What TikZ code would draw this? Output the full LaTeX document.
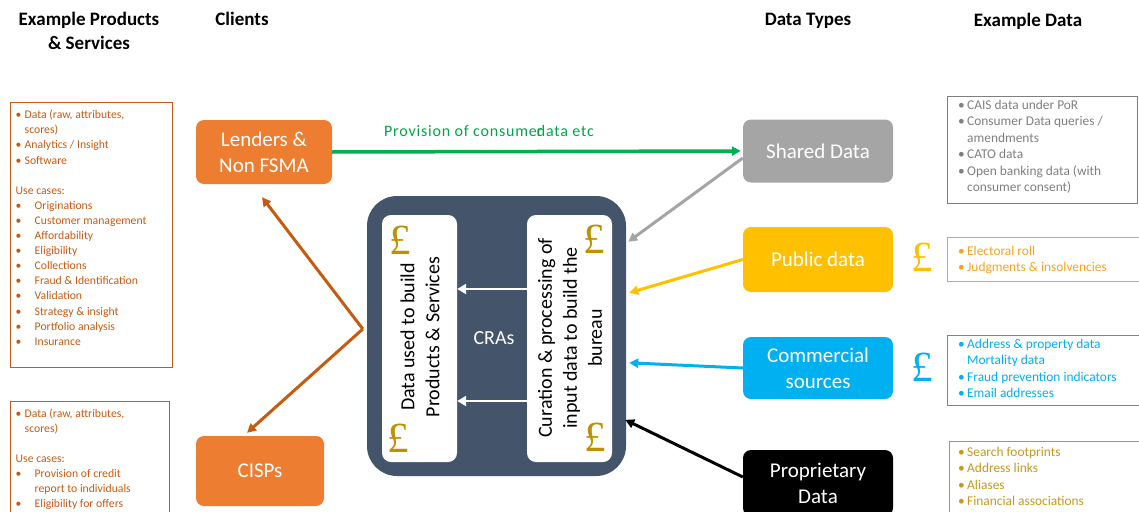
\documentclass[tikz,border=0pt]{standalone}
\usepackage{fontspec}
\setmainfont{Carlito}
\newfontfamily\poundfont{Liberation Serif}
\newfontfamily\trackfont[LetterSpace=5]{Carlito}
\usetikzlibrary{arrows.meta,calc}

\definecolor{clientOrange}{HTML}{ED7D31}
\definecolor{rustOrange}{HTML}{C55A11}
\definecolor{craSlate}{HTML}{44546A}
\definecolor{poundGold}{HTML}{BF9000}
\definecolor{sharedGrey}{HTML}{A5A5A5}
\definecolor{listGrey}{HTML}{7F7F7F}
\definecolor{publicYellow}{HTML}{FFC000}
\definecolor{publicOrange}{RGB}{247,163,28}
\definecolor{commBlue}{HTML}{00B0F0}
\definecolor{propGold}{RGB}{196,152,28}
\definecolor{flowGreen}{HTML}{00B050}
\definecolor{labelGreen}{RGB}{0,166,70}

\newcommand\fsz[2]{\fontsize{#1}{#2}\selectfont}
\newcommand\bA{\makebox[9pt][l]{•}}
\newcommand\bB{\makebox[19pt][l]{•}}
\newcommand\bR{\makebox[9pt][l]{•}}

\begin{document}
\begin{tikzpicture}[x=1pt,y=-1pt,
  head/.style={font=\bfseries\fsz{19}{24}, align=center, inner sep=0},
  clientbox/.style={fill=clientOrange, text=white, rounded corners=8pt,
    font=\fsz{21}{26}, align=center, inner sep=0},
  dtype/.style={rounded corners=8pt, text=white, font=\fsz{21}{26},
    align=center, inner sep=0, minimum width=150pt},
  inbox/.style={fill=white, rounded corners=9pt, inner sep=0},
  rot/.style={rotate=90, align=center, font=\fsz{20}{25}, inner sep=0},
  pound/.style={font=\poundfont\fsz{43}{43}, text=poundGold, inner sep=0},
  flow/.style={line width=3pt, -{Triangle[length=9pt,width=9pt]}},
  innerflow/.style={line width=2.5pt, white, -{Triangle[length=9pt,width=10pt]}},
  listframe/.style={line width=1.3pt, inner sep=0, anchor=north west},
  listL/.style={anchor=north west, inner sep=0, align=left,
    font=\fsz{11.7}{15.1}, text=rustOrange},
  listR/.style={anchor=north west, inner sep=0, align=left,
    font=\fsz{13.4}{16.5}}]

\useasboundingbox (0,0) rectangle (1139,511);
\clip (0,0) rectangle (1139,511);

% column headings
\node[head] (hProd) at (89,31) {Example Products\\\& Services};
\node[head] (hCli) at (242,19) {Clients};
\node[head] (hTypes) at (808,21) {Data Types};
\node[head] (hEx) at (1028,21) {Example Data};

% products and services
\node[listframe, draw=rustOrange, minimum width=162pt, minimum height=265pt] (prodBox) at (9.5,101.5) {};
\node[listL] (prodText) at (15.5,110) {%
\bA Data (raw, attributes,\\
\hspace*{9pt}scores)\\
\bA Analytics / Insight\\
\bA Software\\
\mbox{}\\
Use cases:\\
\bB Originations\\
\bB Customer management\\
\bB Affordability\\
\bB Eligibility\\
\bB Collections\\
\bB Fraud \& Identification\\
\bB Validation\\
\bB Strategy \& insight\\
\bB Portfolio analysis\\
\bB Insurance};

\node[listframe, draw=rustOrange, minimum width=159pt, minimum height=130pt] (cispBox) at (9.5,401) {};
\node[listL] (cispText) at (15.5,408.5) {%
\bA Data (raw, attributes,\\
\hspace*{9pt}scores)\\
\mbox{}\\
Use cases:\\
\bB Provision of credit\\
\hspace*{19pt}report to individuals\\
\bB Eligibility for offers};

% clients
\node[clientbox, minimum width=136pt, minimum height=64pt] (lenders) at (264,152) {Lenders \&\\Non FSMA};
\node[clientbox, minimum width=128pt, minimum height=70pt] (cisps) at (260,471) {CISPs};

% credit reference agencies
\node[fill=craSlate, rounded corners=30pt, minimum width=259pt, minimum height=280pt, inner sep=0] (cra) at (496.5,336) {};
\node[inbox, minimum width=75pt, minimum height=247pt] (lin) at (419.5,338.5) {};
\node[inbox, minimum width=85pt, minimum height=247pt] (rin) at (569.5,338.5) {};
\node[rot] (ltext) at (420,337) {Data used to build\\Products \& Services};
\node[rot] (rtext) at (570,338) {Curation \& processing of\\input data to build the\\bureau};
\node[font=\fsz{20}{25}, text=white, inner sep=0] (cras) at (494,338) {CRAs};
\node[pound] (pLT) at (400,240) {£};
\node[pound] (pLB) at (398,438) {£};
\node[pound] (pRT) at (594,239) {£};
\node[pound] (pRB) at (595,437) {£};

\coordinate (row1) at (0,289);
\coordinate (row2) at (0,401);
\draw[innerflow] (rin.west |- row1) -- (lin.east |- row1);
\draw[innerflow] (rin.west |- row2) -- (lin.east |- row2);

% data types
\node[dtype, fill=sharedGrey, minimum height=63pt] (shared) at (818,151) {Shared Data};
\node[dtype, fill=publicYellow, minimum height=65pt] (public) at (818,259.5) {Public data};
\node[dtype, fill=commBlue, minimum height=62pt] (commercial) at (818,368) {Commercial\\sources};
\node[dtype, fill=black, minimum height=66pt] (proprietary) at (818,483) {Proprietary\\Data};

% flows
\draw[flow, flowGreen, line width=3.5pt] (lenders.east) -- ([xshift=-2pt]shared.west);
\node[font=\trackfont\fsz{16}{16}, text=labelGreen, inner sep=0] (provision) at (489,131) {Provision of consume\rlap{r}data etc};

\draw[flow, sharedGrey] ([yshift=-7pt]shared.west) -- ($(cra.north east)+(2,46)$);
\draw[flow, publicYellow] (public.west) -- ($(cra.north east)+(3,97)$);
\draw[flow, commBlue] (commercial.west) -- ($(cra.north east)+(3,167)$);
\draw[flow, black] ([yshift=6pt]proprietary.west) -- ($(cra.north east)+(-1,224)$);

\coordinate (apex) at ($(cra.west)+(-4,-7)$);
\draw[flow, rustOrange] (apex) -- ([shift={(-2pt,-13pt)}]lenders.south);
\draw[flow, rustOrange] (apex) -- ([shift={(-13pt,3pt)}]cisps.north);

% charges for data
\node[pound, text=publicYellow] (pPub) at (922,257) {£};
\node[pound, text=commBlue] (pCom) at (922,367) {£};

% example data
\node[listframe, draw=listGrey, minimum width=190pt, minimum height=107pt] (sharedBox) at (946.5,95.5) {};
\node[listR, text=listGrey] (sharedText) at (958,99.5) {%
\bR CAIS data under PoR\\
\bR Consumer Data queries /\\
\hspace*{9pt}amendments\\
\bR CATO data\\
\bR Open banking data (with\\
\hspace*{9pt}consumer consent)};

\node[listframe, draw=publicOrange, minimum width=200pt, minimum height=44pt] (publicBox) at (947,237) {};
\node[listR, text=publicOrange] (publicText) at (958,245.5) {%
\bR Electoral roll\\
\bR Judgments \& insolvencies};

\node[listframe, draw=commBlue, minimum width=200pt, minimum height=70pt] (commBox) at (947,334.5) {};
\node[listR, text=commBlue] (commText) at (958,338.5) {%
\bR Address \& property data\\
\hspace*{9pt}Mortality data\\
\bR Fraud prevention indicators\\
\bR Email addresses};

\node[listframe, draw=propGold, minimum width=200pt, minimum height=90pt] (propBox) at (949,440.5) {};
\node[listR, text=propGold] (propText) at (958,446.5) {%
\bR Search footprints\\
\bR Address links\\
\bR Aliases\\
\bR Financial associations};
\end{tikzpicture}
\end{document}
